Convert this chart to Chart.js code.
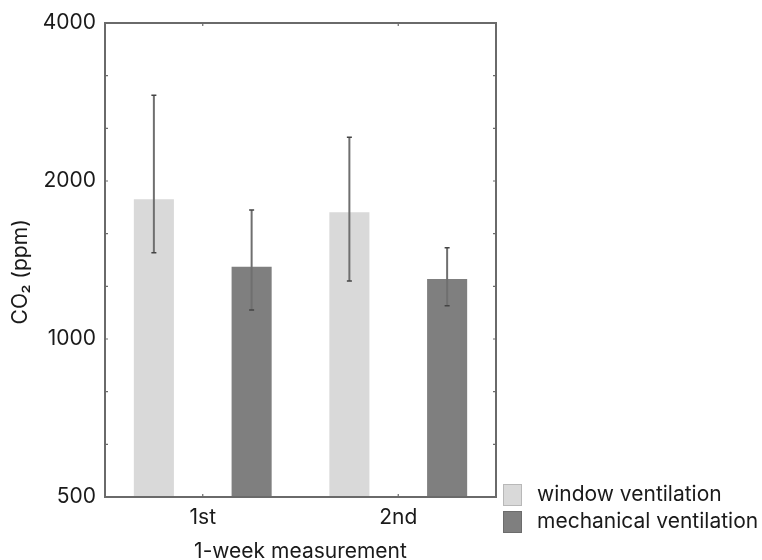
<!DOCTYPE html>
<html>
<head>
<meta charset="utf-8">
<script src="https://cdn.jsdelivr.net/npm/chart.js@4/dist/chart.umd.min.js"></script>
<style>
  html, body { margin: 0; padding: 0; background: #fff; }
  #wrap { width: 762px; height: 560px; }
</style>
</head>
<body>
<div id="wrap"><canvas id="chart" width="762" height="560"></canvas></div>
<script>
// valores (escala log)
const categories = ["1st", "2nd"];
const windowMean = [1846, 1744];
const windowHigh = [2912, 2422];
const windowLow = [1460, 1290];
const mechMean = [1373, 1301];
const mechHigh = [1761, 1493];
const mechLow = [1136, 1157];
const yTicks = [500, 1000, 2000, 4000];

const FONT = "Inter, 'Liberation Sans', Arial, sans-serif";
const FSIZE = 21;
const FRAME = "#6a6a6a";

// barras de error sobre cada barra
const errorBars = {
  id: "errorBars",
  afterDatasetsDraw(chart) {
    const { ctx, scales: { y } } = chart;
    const errs = [
      [windowLow, windowHigh],
      [mechLow, mechHigh],
    ];
    chart.data.datasets.forEach((ds, i) => {
      const meta = chart.getDatasetMeta(i);
      meta.data.forEach((bar, j) => {
        const yHi = y.getPixelForValue(errs[i][1][j]);
        const yLo = y.getPixelForValue(errs[i][0][j]);
        ctx.save();
        ctx.strokeStyle = "#6f6f6f";
        ctx.lineWidth = 2;
        ctx.beginPath();
        ctx.moveTo(bar.x, yHi);
        ctx.lineTo(bar.x, yLo);
        ctx.stroke();
        ctx.strokeStyle = "#444";
        ctx.lineWidth = 1.5;
        ctx.beginPath();
        ctx.moveTo(bar.x - 2.5, yHi);
        ctx.lineTo(bar.x + 2.5, yHi);
        ctx.moveTo(bar.x - 2.5, yLo);
        ctx.lineTo(bar.x + 2.5, yLo);
        ctx.stroke();
        ctx.restore();
      });
    });
  },
};

// marco cerrado con marcas hacia adentro + leyenda a la derecha
const frame = {
  id: "frame",
  afterDraw(chart) {
    const { ctx, chartArea: a, scales: { x, y } } = chart;
    ctx.save();
    ctx.strokeStyle = FRAME;
    ctx.lineWidth = 2;
    ctx.strokeRect(a.left, a.top, a.right - a.left, a.bottom - a.top);

    ctx.lineWidth = 1.2;
    ctx.beginPath();
    // marcas menores cada tercio de octava
    const lmin = Math.log2(y.min), lmax = Math.log2(y.max);
    for (let k = 1; k < Math.round((lmax - lmin) * 3); k++) {
      const py = y.getPixelForValue(Math.pow(2, lmin + k / 3));
      ctx.moveTo(a.left, py); ctx.lineTo(a.left + 3, py);
      ctx.moveTo(a.right, py); ctx.lineTo(a.right - 3, py);
    }
    categories.forEach((c, i) => {
      const px = x.getPixelForTick(i);
      ctx.moveTo(px, a.bottom); ctx.lineTo(px, a.bottom - 3);
      ctx.moveTo(px, a.top); ctx.lineTo(px, a.top + 3);
    });
    ctx.stroke();

    // leyenda
    ctx.font = FSIZE + "px " + FONT;
    ctx.textBaseline = "middle";
    ctx.textAlign = "left";
    chart.data.datasets.forEach((ds, i) => {
      const top = 484 + i * 27;
      ctx.fillStyle = ds.backgroundColor;
      ctx.fillRect(503, top, 19, 22);
      ctx.strokeStyle = "rgba(0,0,0,0.15)";
      ctx.lineWidth = 1;
      ctx.strokeRect(503.5, top + 0.5, 18, 21);
      ctx.fillStyle = "#1a1a1a";
      ctx.fillText(ds.label, 537, top + 11);
    });
    ctx.restore();
  },
};

new Chart(document.getElementById("chart"), {
  type: "bar",
  data: {
    labels: categories,
    datasets: [
      { label: "window ventilation", data: windowMean, backgroundColor: "#d9d9d9" },
      { label: "mechanical ventilation", data: mechMean, backgroundColor: "#7f7f7f" },
    ],
  },
  options: {
    responsive: false,
    animation: false,
    events: [],
    layout: { padding: { top: 23, right: 266, left: 0, bottom: 0 } },
    datasets: { bar: { barPercentage: 0.41, categoryPercentage: 1.0 } },
    plugins: { legend: { display: false }, tooltip: { enabled: false } },
    scales: {
      x: {
        grid: { display: false, drawTicks: false },
        border: { display: false },
        ticks: { color: "#1a1a1a", padding: 8, font: { family: FONT, size: FSIZE } },
        title: {
          display: true,
          text: "1-week measurement",
          color: "#1a1a1a",
          font: { family: FONT, size: FSIZE, lineHeight: 1.0 },
          padding: { top: 0, bottom: -2 },
        },
        afterFit: (s) => { s.height = 63; },
      },
      y: {
        type: "logarithmic",
        min: 500,
        max: 4000,
        grid: { display: false, drawTicks: false },
        border: { display: false },
        afterBuildTicks: (s) => { s.ticks = yTicks.map((v) => ({ value: v })); },
        ticks: {
          color: "#1a1a1a",
          padding: 9,
          font: { family: FONT, size: FSIZE },
          callback: (v) => String(v),
        },
        title: {
          display: true,
          text: "CO₂ (ppm)    ",
          color: "#1a1a1a",
          font: { family: FONT, size: FSIZE, lineHeight: 1.2 },
          padding: { top: 8, bottom: 0 },
        },
        afterFit: (s) => { s.width = 105; },
      },
    },
  },
  plugins: [errorBars, frame],
});
</script>
</body>
</html>
